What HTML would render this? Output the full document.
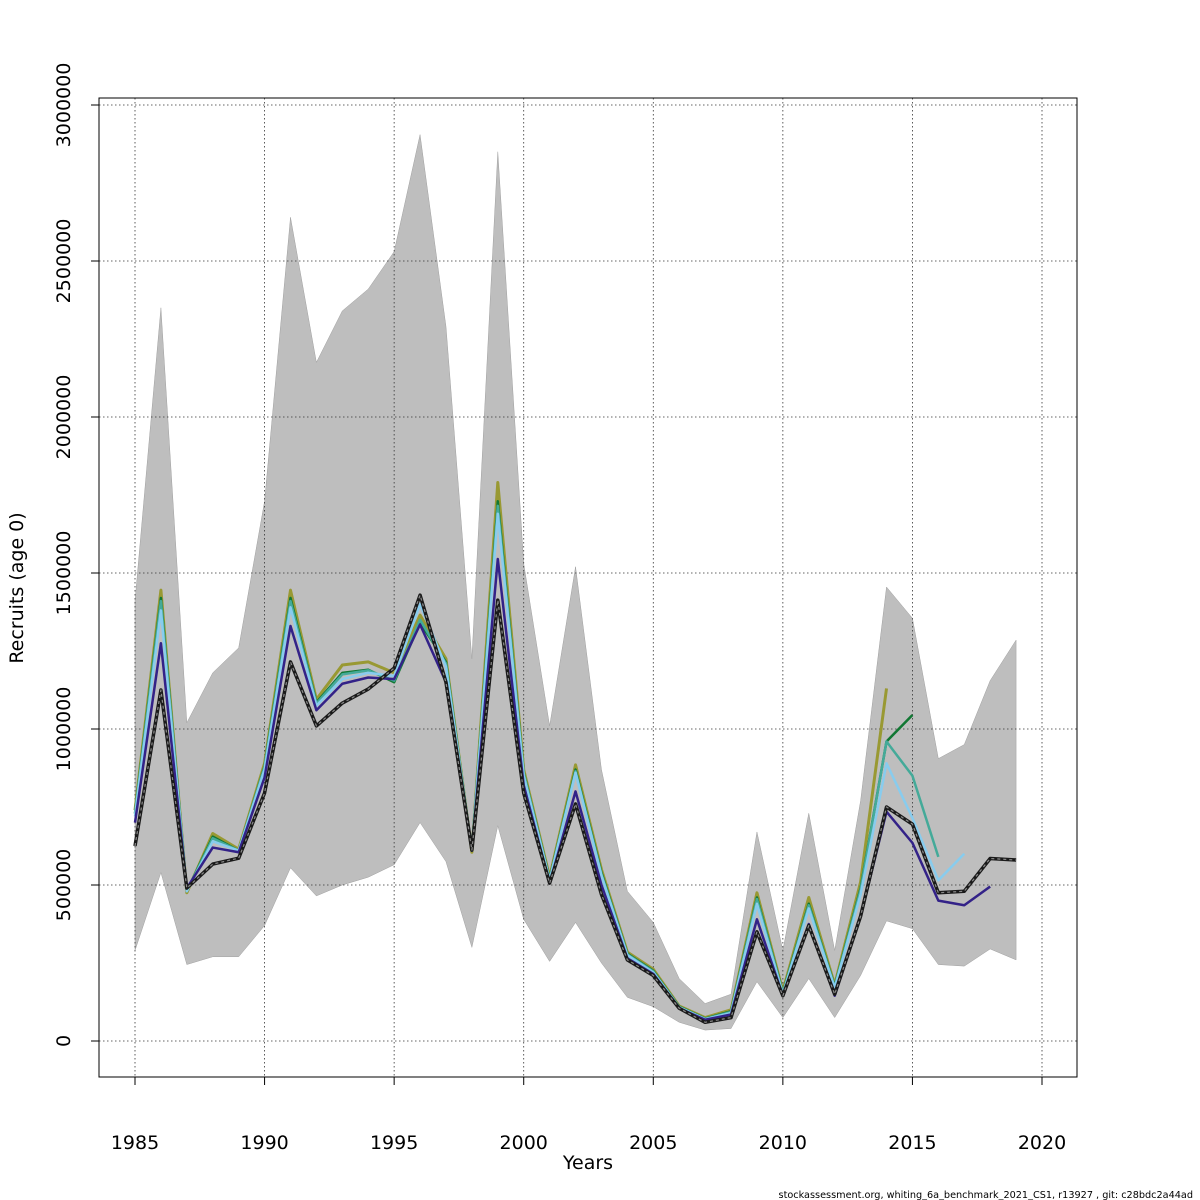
<!DOCTYPE html>
<html><head><meta charset="utf-8"><style>
html,body{margin:0;padding:0;background:#fff;}
svg{display:block;font-family:"DejaVu Sans","Liberation Sans",sans-serif;}
</style></head><body>
<svg id="chart" width="1200" height="1200" viewBox="0 0 1200 1200" xmlns="http://www.w3.org/2000/svg">
<g id="band"></g>
<g id="grid"></g>
<g id="lines"></g>
<rect x="99" y="98" width="978" height="979" fill="none" stroke="#000" stroke-width="1"/>
<g id="axes"></g>
<text x="588" y="1169" font-size="19" text-anchor="middle">Years</text>
<text transform="translate(23,588) rotate(-90)" font-size="19" text-anchor="middle">Recruits (age 0)</text>
<text x="1193" y="1198" font-size="9.7" text-anchor="end">stockassessment.org, whiting_6a_benchmark_2021_CS1, r13927 , git: c28bdc2a44ad</text>
</svg>
<script>
const years = [1985,1986,1987,1988,1989,1990,1991,1992,1993,1994,1995,1996,1997,1998,1999,2000,2001,2002,2003,2004,2005,2006,2007,2008,2009,2010,2011,2012,2013,2014,2015,2016,2017,2018,2019];
const bandUpper = [1410,2350,1020,1180,1260,1730,2640,2175,2340,2410,2530,2905,2290,1225,2850,1530,1010,1520,870,480,380,200,120,150,670,290,730,290,770,1455,1355,905,950,1155,1285];
const bandLower = [290,540,245,270,270,370,555,465,500,525,565,700,575,300,690,390,255,380,250,140,110,60,35,40,190,75,200,75,210,385,360,245,240,295,260];
const baseSeries = [625,1125,490,567,586,795,1215,1010,1083,1128,1195,1429,1150,612,1413,795,506,760,470,260,210,105,60,75,350,145,370,150,400,750,695,475,480,585,580];
const peel1 = [700,1275,490,620,605,845,1330,1060,1145,1165,1160,1335,1150,610,1545,820,505,800,500,265,215,105,68,85,390,145,375,145,400,735,635,450,435,495];
const peel2 = [720,1380,480,640,610,870,1390,1075,1160,1180,1170,1400,1200,610,1690,850,515,860,530,275,220,108,70,90,440,150,425,170,470,890,715,515,600];
const peel3 = [728,1410,480,650,610,878,1410,1082,1175,1188,1155,1350,1210,610,1715,858,518,865,535,278,223,109,71,93,455,153,435,173,485,960,850,590];
const peel4 = [730,1420,480,655,610,880,1420,1085,1180,1190,1150,1340,1215,610,1730,860,520,870,540,280,225,110,72,95,460,155,440,175,490,960,1045];
const peel5 = [740,1445,475,665,615,890,1445,1095,1205,1215,1180,1365,1225,605,1790,870,525,885,550,285,230,112,75,100,475,160,460,180,510,1130];
const xTicks = [1985,1990,1995,2000,2005,2010,2015,2020];
const yTicks = [0,500000,1000000,1500000,2000000,2500000,3000000];

const NS="http://www.w3.org/2000/svg";
const X = yr => 135 + (yr-1985)*(1042-135)/35;
const Y = v => 1041 - v*1000*(1041-105)/3000000;
const Yr = v => 1041 - v*(1041-105)/3000000;
function mk(tag, attrs, parent){const e=document.createElementNS(NS,tag);for(const k in attrs)e.setAttribute(k,attrs[k]);parent.appendChild(e);return e;}

let pts=[];
years.forEach((y,i)=>pts.push(X(y)+','+Y(bandUpper[i])));
for(let i=years.length-1;i>=0;i--)pts.push(X(years[i])+','+Y(bandLower[i]));
const band=mk('polygon',{points:pts.join(' '),fill:'#bebebe',stroke:'#a0a0a0','stroke-width':0.5},document.getElementById('band'));



const g=document.getElementById('grid');
xTicks.forEach(t=>{const l=mk('line',{x1:X(t),x2:X(t),y1:98,y2:1077,stroke:'#333','stroke-width':0.8,'stroke-dasharray':'1.5,2.5'},g);

});
yTicks.forEach(t=>{const l=mk('line',{x1:99,x2:1077,y1:Yr(t),y2:Yr(t),stroke:'#333','stroke-width':0.8,'stroke-dasharray':'1.5,2.5'},g);

});

const L=document.getElementById('lines');
function line(data,color,name,w){
  const p=data.map((v,i)=>X(years[i])+','+Y(v)).join(' ');
  const e=mk('polyline',{points:p,fill:'none',stroke:color,'stroke-width':w,'stroke-linejoin':'round'},L);
  
  
  return e;
}
line(peel5,'#999933','peel-2014-line',3);
line(peel4,'#117733','peel-2015-line',2.5);
line(peel3,'#44AA99','peel-2016-line',2.5);
line(peel2,'#88CCEE','peel-2017-line',2.5);
line(peel1,'#332288','peel-2018-line',2.5);
line(baseSeries,'#1a1a1a','base-line',3.5);
const d=line(baseSeries,'#8a8a8a','base-line-dash',1.2);
d.setAttribute('stroke-dasharray','3,3');

const A=document.getElementById('axes');
xTicks.forEach(t=>{
  mk('line',{x1:X(t),x2:X(t),y1:1077,y2:1085,stroke:'#000'},A);
  const tx=mk('text',{x:X(t),y:1149,'font-size':19,'text-anchor':'middle'},A);
  tx.textContent=t;
  
  
});
yTicks.forEach(t=>{
  mk('line',{x1:91,x2:99,y1:Yr(t),y2:Yr(t),stroke:'#000'},A);
  const tx=mk('text',{transform:'translate(70,'+Yr(t)+') rotate(-90)','font-size':19,'text-anchor':'middle'},A);
  tx.textContent=t;
  
  
});
</script>
</body></html>
